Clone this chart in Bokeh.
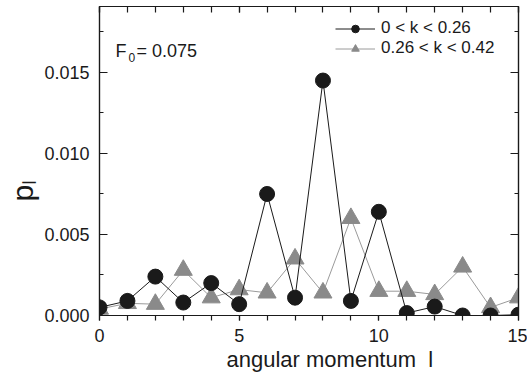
from bokeh.plotting import figure
from bokeh.models import (LinearAxis, Range1d, Label, Legend, LegendItem,
                          FixedTicker, ColumnDataSource, Title,
                          CustomJSTickFormatter)
from bokeh.embed import file_html
from bokeh.resources import INLINE

# ---- data ----
l_values = list(range(16))
p_low_k = [0.0005, 0.0009, 0.0024, 0.0008, 0.0020, 0.0007, 0.0075, 0.0011,
           0.0145, 0.0009, 0.0064, 0.00015, 0.00055, 0.0, 0.0, 0.00005]
p_high_k = [0.0004, 0.00075, 0.0007, 0.0028, 0.0011, 0.0016, 0.0014, 0.0035,
            0.0014, 0.0060, 0.0015, 0.0015, 0.0013, 0.0030, 0.0005, 0.0011]
label_low = "0 < k < 0.26"
label_high = "0.26 < k < 0.42"
x_major = [0, 5, 10, 15]
x_minor = list(range(16))
y_major = [0.0, 0.005, 0.010, 0.015]
y_minor = [0.0, 0.0025, 0.005, 0.0075, 0.010, 0.0125, 0.015, 0.0175]

FONT = "Liberation Sans"
BLACK = "#1a1a1a"
GREY_M = "#8a8a8a"
GREY_L = "#9a9a9a"

p = figure(width=527, height=377, output_backend="svg", toolbar_location=None,
           x_range=Range1d(0, 15), y_range=Range1d(0, 0.01907),
           min_border_left=99, min_border_right=9, min_border_top=6,
           min_border_bottom=62, x_axis_type=None, y_axis_type=None)
p.grid.visible = False
p.outline_line_color = BLACK
p.outline_line_width = 1.2
p.background_fill_color = "white"
p.border_fill_color = "white"


def mk_axis(place, labels, tin, tout, min_in, min_out, ticks, minor):
    ax = LinearAxis(ticker=FixedTicker(ticks=ticks, minor_ticks=minor))
    ax.axis_line_color = BLACK
    ax.axis_line_width = 1.2
    ax.major_tick_line_color = BLACK
    ax.minor_tick_line_color = BLACK
    ax.major_tick_in = tin
    ax.major_tick_out = tout
    ax.minor_tick_in = min_in
    ax.minor_tick_out = min_out
    ax.major_tick_line_width = 1.2
    ax.minor_tick_line_width = 1.2
    if labels:
        ax.major_label_text_font = FONT
        ax.major_label_text_font_size = "18px"
        ax.major_label_text_color = BLACK
    else:
        ax.major_label_text_font_size = "0px"
        ax.major_label_text_alpha = 0
    p.add_layout(ax, place)
    return ax


xb = mk_axis("below", True, 0, 5, 0, 5, x_major, x_minor)
xb.major_label_standoff = 8
xb.formatter = CustomJSTickFormatter(code="return tick.toFixed(0);")
xt = mk_axis("above", False, 6, 0, 6, 0, x_major, x_minor)
yl = mk_axis("left", True, 8, 0, 4, 0, y_major, y_minor)
yl.major_label_standoff = 10
yl.formatter = CustomJSTickFormatter(code="return tick.toFixed(3);")
yr = mk_axis("right", False, 8, 0, 4, 0, y_major, y_minor)

src = ColumnDataSource(dict(l=l_values, a=p_low_k, b=p_high_k))

r_lb = p.line("l", "b", source=src, line_color=GREY_L, line_width=1)
r_mb = p.scatter("l", "b", source=src, marker="triangle", size=18,
                 fill_color=GREY_M, line_color=GREY_M)
r_la = p.line("l", "a", source=src, line_color=BLACK, line_width=1)
r_ma = p.scatter("l", "a", source=src, marker="circle", size=15,
                 fill_color=BLACK, line_color=BLACK)

legend = Legend(items=[LegendItem(label=label_low, renderers=[r_la, r_ma]),
                       LegendItem(label=label_high, renderers=[r_lb, r_mb])],
                location=(236, 257), padding=0, spacing=0, margin=0,
                glyph_width=40, glyph_height=19, label_height=19,
                label_standoff=6, label_text_font=FONT,
                label_text_font_size="17px", label_text_color=BLACK,
                border_line_color=None, background_fill_alpha=0)
p.add_layout(legend, "center")


def lab(x, y, text, size):
    p.add_layout(Label(x=x, y=y, x_units="screen", y_units="screen",
                       text=text, text_font=FONT, text_font_size=size,
                       text_color=BLACK, text_baseline="alphabetic",
                       text_align="left"))


# F0 annotation
lab(16, 265, "F", "18px")
lab(29, 258, "0", "12px")
lab(37, 265, "= 0.075", "18px")

# y axis label p_l (title in the left panel)
p.add_layout(Title(text="p\u2097", align="left", offset=114,
                   text_font=FONT, text_font_size="30px",
                   text_font_style="normal", text_color=BLACK,
                   standoff=6), "left")

# x axis label (title in the bottom panel)
p.add_layout(Title(text="angular momentum\u00a0\u00a0l", align="left",
                   offset=127, text_font=FONT, text_font_size="22px",
                   text_font_style="normal", text_color=BLACK,
                   standoff=0), "below")

open("out.html", "w").write(file_html(p, INLINE))
